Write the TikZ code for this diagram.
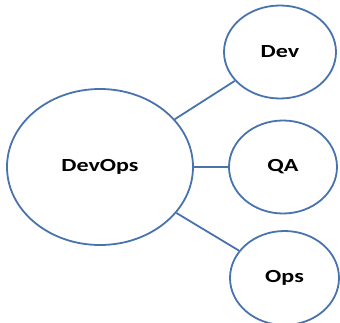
\documentclass[tikz,border=0pt]{standalone}
\usepackage{fontspec}
\setmainfont[FakeStretch=1.3]{Carlito}
\usepackage{tikz}
\usetikzlibrary{shapes.geometric}
\definecolor{ringblue}{RGB}{72,115,174}

\begin{document}
\begin{tikzpicture}[x=1pt,y=1pt,
	ring/.style={ellipse,draw=ringblue,line width=1.8pt,inner sep=0pt},
	lbl/.style={font=\fontsize{18.5}{20}\selectfont\bfseries}]
	\useasboundingbox (0,0) rectangle (340,322);
	\node[ring,lbl,minimum width=186pt,minimum height=156pt] (devops) at (100,155) {DevOps};
	\node[ring,lbl,minimum width=112pt,minimum height=93pt] (dev) at (280,270) {Dev};
	\node[ring,lbl,minimum width=108pt,minimum height=93pt] (qa) at (283,155) {QA};
	\node[ring,lbl,minimum width=109pt,minimum height=94pt] (ops) at (284.5,44) {Ops};
	\foreach \t in {dev,qa,ops}{
		\draw[ringblue,line width=1.8pt] (devops) -- (\t);
	}
\end{tikzpicture}
\end{document}
